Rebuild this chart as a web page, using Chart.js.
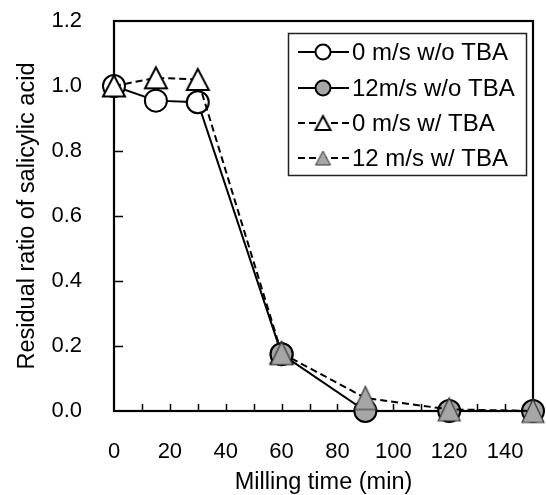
<!DOCTYPE html>
<html>
<head>
<meta charset="utf-8">
<script src="https://cdn.jsdelivr.net/npm/chart.js@4.4.1/dist/chart.umd.min.js"></script>
<style>
  html, body { margin: 0; padding: 0; background: #fff; }
</style>
</head>
<body>
<canvas id="chart" width="546" height="495"></canvas>
<script>
// milling time (min)
var minutes = [0, 15, 30, 60, 90, 120, 150];

// residual ratio of salicylic acid
var still_noTBA  = [1.0, 0.955, 0.95, 0.175, null, null, null];
var fast_noTBA   = [null, null, null, 0.175, 0.0, 0.0, 0.0];
var still_TBA    = [1.0, 1.025, 1.02, 0.178, null, null, null];
var fast_TBA     = [null, null, null, 0.178, 0.04, 0.005, 0.0];

var seriesNames = ['0 m/s w/o TBA', '12m/s w/o TBA', '0 m/s w/ TBA', '12 m/s w/ TBA'];
var xTicks = [0, 20, 40, 60, 80, 100, 120, 140];
var yTicks = [0, 0.2, 0.4, 0.6, 0.8, 1.0, 1.2];

var GRAY = '#a6a6a6';
var FONT = '"Liberation Sans", Arial, sans-serif';

function triangleMarker(w, h, fill, stroke, lw) {
  var c = document.createElement('canvas');
  c.width = w + 6; c.height = h + 6;
  var g = c.getContext('2d');
  var cx = c.width / 2, cy = c.height / 2;
  g.beginPath();
  g.moveTo(cx, cy - h / 2);
  g.lineTo(cx + w / 2, cy + h / 2);
  g.lineTo(cx - w / 2, cy + h / 2);
  g.closePath();
  g.fillStyle = fill;
  g.fill();
  g.lineWidth = lw;
  g.strokeStyle = stroke;
  g.stroke();
  return c;
}

var triOpen = triangleMarker(22, 21, '#fff', '#000', 2);
var triGray = triangleMarker(22, 23, GRAY, '#333', 1.2);
var triOpenSmall = triangleMarker(15, 14, '#fff', '#000', 2);
var triGraySmall = triangleMarker(15, 14, GRAY, '#333', 1);

function pts(ys) {
  var out = [];
  for (var i = 0; i < minutes.length; i++) {
    if (ys[i] !== null) out.push({ x: minutes[i], y: ys[i] });
  }
  return out;
}

var datasets = [
  { label: seriesNames[0], data: pts(still_noTBA), borderColor: '#000', borderWidth: 2,
    pointStyle: 'circle', pointRadius: 11, pointBorderWidth: 2, pointBackgroundColor: '#fff',
    pointBorderColor: '#000', order: 3 },
  { label: seriesNames[1], data: pts(fast_noTBA), borderColor: '#000', borderWidth: 2,
    pointStyle: 'circle', pointRadius: 11, pointBorderWidth: 2, pointBackgroundColor: GRAY,
    pointBorderColor: '#000', order: 1 },
  { label: seriesNames[2], data: pts(still_TBA), borderColor: '#000', borderWidth: 2,
    borderDash: [7, 4], pointStyle: triOpen, order: 2 },
  { label: seriesNames[3], data: pts(fast_TBA), borderColor: '#000', borderWidth: 2,
    borderDash: [7, 4], pointStyle: triGray, order: 0 }
];
datasets.forEach(function (d) { d.clip = false; d.tension = 0; d.fill = false; });

// frame and inward tick marks
var framePlugin = {
  id: 'frame',
  beforeDatasetsDraw: function (chart) {
    var ctx = chart.ctx, a = chart.chartArea;
    var xs = chart.scales.x, ys = chart.scales.y;
    ctx.save();
    ctx.strokeStyle = '#000';
    ctx.lineWidth = 1.5;
    ctx.beginPath();
    for (var m = 10; m < 150; m += 10) {
      var px = Math.round(xs.getPixelForValue(m)) + 0.5;
      ctx.moveTo(px, a.bottom);
      ctx.lineTo(px, a.bottom - 7);
    }
    for (var i = 1; i < yTicks.length - 1; i++) {
      var py = Math.round(ys.getPixelForValue(yTicks[i])) + 0.5;
      ctx.moveTo(a.left, py);
      ctx.lineTo(a.left + 9, py);
    }
    ctx.stroke();
    ctx.lineWidth = 2.2;
    ctx.strokeRect(a.left, a.top, a.right - a.left, a.bottom - a.top);
    ctx.restore();
  }
};

var legendPlugin = {
  id: 'boxLegend',
  afterDraw: function (chart) {
    var ctx = chart.ctx;
    var bx = 288, by = 33, bw = 238, bh = 142;
    var rows = [52, 88, 123, 158];
    ctx.save();
    ctx.fillStyle = '#fff';
    ctx.fillRect(bx, by, bw, bh);
    ctx.strokeStyle = '#222';
    ctx.lineWidth = 1.5;
    ctx.strokeRect(bx + 0.5, by + 0.5, bw, bh);
    ctx.font = '24px ' + FONT;
    ctx.textBaseline = 'middle';
    ctx.textAlign = 'left';
    for (var i = 0; i < seriesNames.length; i++) {
      var y = rows[i];
      ctx.strokeStyle = '#000';
      ctx.lineWidth = 2;
      ctx.setLineDash(i >= 2 ? [7, 4] : []);
      ctx.beginPath();
      ctx.moveTo(298, y);
      ctx.lineTo(349, y);
      ctx.stroke();
      ctx.setLineDash([]);
      if (i < 2) {
        ctx.beginPath();
        ctx.arc(323, y, 7.5, 0, Math.PI * 2);
        ctx.fillStyle = i === 0 ? '#fff' : GRAY;
        ctx.fill();
        ctx.stroke();
      } else {
        var img = i === 2 ? triOpenSmall : triGraySmall;
        ctx.drawImage(img, 323 - img.width / 2, y - img.height / 2);
      }
      ctx.fillStyle = '#000';
      ctx.fillText(seriesNames[i], 352, y + 1);
    }
    ctx.restore();
  }
};

new Chart(document.getElementById('chart').getContext('2d'), {
  type: 'line',
  data: { datasets: datasets },
  options: {
    responsive: false,
    animation: false,
    layout: { padding: { top: 21, right: 9, left: 0, bottom: 0 } },
    plugins: { legend: { display: false }, tooltip: { enabled: false } },
    scales: {
      x: {
        type: 'linear', min: 0, max: 150,
        afterFit: function (s) { s.height = 84; s.paddingLeft = 0; s.paddingRight = 0; },
        afterBuildTicks: function (s) { s.ticks = xTicks.map(function (v) { return { value: v }; }); },
        grid: { display: false, drawTicks: false },
        border: { display: false },
        ticks: { color: '#000', font: { family: FONT, size: 22 }, padding: 28,
                 autoSkip: false, maxRotation: 0 },
        title: { display: true, text: 'Milling time (min)', color: '#000',
                 font: { family: FONT, size: 23.5, lineHeight: 1 }, padding: { top: 0, bottom: 1 } }
      },
      y: {
        min: 0, max: 1.2,
        afterFit: function (s) { s.width = 114; s.paddingTop = 0; s.paddingBottom = 0; },
        afterBuildTicks: function (s) { s.ticks = yTicks.map(function (v) { return { value: v }; }); },
        grid: { display: false, drawTicks: false },
        border: { display: false },
        ticks: { color: '#000', font: { family: FONT, size: 22 }, padding: 32,
                 callback: function (v) { return v.toFixed(1); } },
        title: { display: true, text: 'Residual ratio of salicylic acid', color: '#000',
                 font: { family: FONT, size: 23.5, lineHeight: 1 }, padding: { top: 16, bottom: 0 } }
      }
    }
  },
  plugins: [framePlugin, legendPlugin]
});
</script>
</body>
</html>
